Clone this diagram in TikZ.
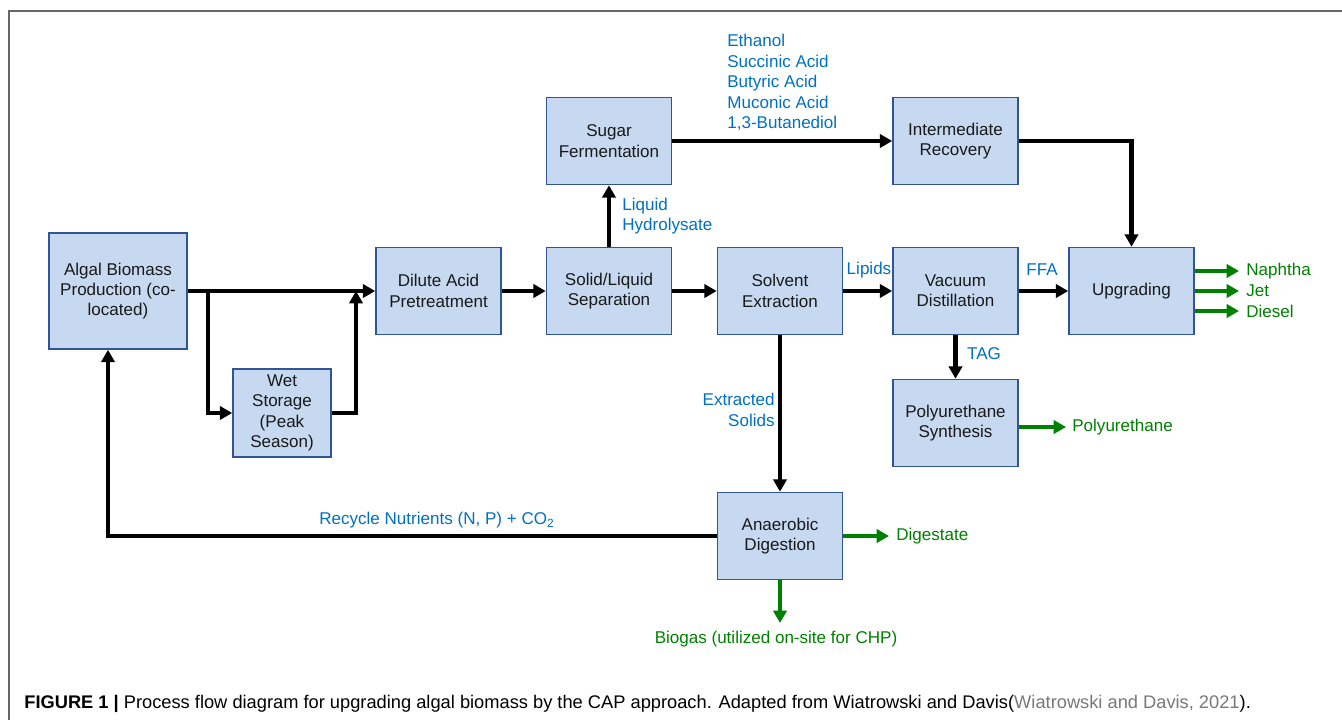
\documentclass[tikz,border=0pt]{standalone}
\usepackage{fontspec}
\setmainfont{Liberation Sans}
\usetikzlibrary{arrows.meta}
\definecolor{boxfill}{RGB}{198,217,240}
\definecolor{boxline}{RGB}{47,85,151}
\definecolor{lblblue}{RGB}{0,112,192}
\definecolor{prodgreen}{RGB}{0,128,0}
\definecolor{citegray}{RGB}{120,120,120}
\tikzset{
  box/.style={draw=boxline, fill=boxfill, line width=0.9pt, align=center,
    minimum width=2.5cm, minimum height=1.74cm, inner sep=0pt,
    font=\fontsize{9.7}{11.6}\selectfont, text=black!90},
  flow/.style={line width=2.3pt, -{Triangle[length=7pt,width=7.5pt]}},
  prodflow/.style={flow, prodgreen},
  lbl/.style={text=lblblue, font=\fontsize{9.7}{11.7}\selectfont, inner sep=0pt},
  prod/.style={text=prodgreen, font=\fontsize{9.7}{11.7}\selectfont, inner sep=0pt}
}
\begin{document}
\begin{tikzpicture}[x=0.02cm, y=-0.02cm]
  \useasboundingbox (0,0) rectangle (1342,720);
  % frame
  \draw[gray!80!black, line width=1.2pt] (9,720) -- (9,11) -- (1342,11);

  % process blocks
  \node[box, minimum width=2.76cm, minimum height=2.32cm] (algal) at (118,291) {Algal Biomass\\Production (co-\\located)};
  \node[box, minimum width=1.96cm, minimum height=1.76cm] (wet) at (282,413) {Wet\\Storage\\(Peak\\Season)};
  \node[box] (dilute)  at (438.5,291) {Dilute Acid\\Pretreatment};
  \node[box] (solid)   at (609,291)   {Solid/Liquid\\Separation};
  \node[box] (solvent) at (780,291)   {Solvent\\Extraction};
  \node[box] (vacuum)  at (955.5,291) {Vacuum\\Distillation};
  \node[box] (upg)     at (1131.5,291) {Upgrading};
  \node[box] (sugar)   at (609,141)   {Sugar\\Fermentation};
  \node[box] (inter)   at (955.5,141) {Intermediate\\Recovery};
  \node[box] (poly)    at (955.5,423) {Polyurethane\\Synthesis};
  \node[box] (anaer)   at (780,536)   {Anaerobic\\Digestion};

  % main connectors
  \coordinate (split) at (208,291);
  \coordinate (join) at (356,291);
  \coordinate (ret) at (108,536);
  \draw[flow] (algal.east) -- (dilute.west);
  \draw[flow] (split) |- (wet.west);
  \draw[flow] (wet.east) -| (join);
  \draw[flow] (dilute) -- (solid);
  \draw[flow] (solid) -- (solvent);
  \draw[flow] (solid) -- (sugar);
  \draw[flow] (sugar) -- (inter);
  \draw[flow] (inter.east) -| (upg.north);
  \draw[flow] (solvent) -- (vacuum);
  \draw[flow] (vacuum) -- (upg);
  \draw[flow] (vacuum) -- (poly);
  \draw[flow] (solvent) -- (anaer);
  \draw[flow] (anaer.west) -- (ret) -- (ret |- algal.south);

  % stream labels
  \node[lbl, anchor=west, align=left] (hydro) at (622,216) {Liquid\\Hydrolysate};
  \node[lbl, anchor=north west, align=left] (inters) at (727,34) {Ethanol\\Succinic Acid\\Butyric Acid\\Muconic Acid\\1,3-Butanediol};
  \node[lbl] (lipids) at (869,270) {Lipids};
  \node[lbl] (ffa) at (1042,270) {FFA};
  \node[lbl] (tag) at (984,354) {TAG};
  \node[lbl, anchor=east, align=right] (solids) at (775,410) {Extracted\\Solids};
  \node[lbl] (recycle) at (437,520) {Recycle Nutrients (N, P) + CO\textsubscript{2}};

  % products
  \coordinate (dig) at (889,536);
  \coordinate (bio) at (780,623);
  \coordinate (pu) at (1066,427);
  \draw[prodflow] (anaer.east |- dig) -- (dig);
  \draw[prodflow] (anaer.south) -- (bio);
  \draw[prodflow] (poly.east |- pu) -- (pu);
  \foreach \yy in {271, 291, 311}
    \draw[prodflow] (upg.east |- 0,\yy) -- (1239,\yy);
  \node[prod, anchor=west] (naphtha) at (1246,271) {Naphtha};
  \node[prod, anchor=west] (jet) at (1246,291) {Jet};
  \node[prod, anchor=west] (diesel) at (1246,311) {Diesel};
  \node[prod, anchor=west] (digl) at (896,536) {Digestate};
  \node[prod] (biol) at (776,639) {Biogas (utilized on-site for CHP)};
  \node[prod, anchor=west] (pul) at (1072,427) {Polyurethane};

  % caption
  \node[anchor=west, inner sep=0pt, font=\fontsize{10.4}{12}\selectfont] (caption) at (24,704)
    {\textbf{FIGURE 1 |} Process flow diagram for upgrading algal biomass by the CAP approach. Adapted from Wiatrowski and Davis(\textcolor{citegray}{Wiatrowski and Davis, 2021}).};
\end{tikzpicture}
\end{document}
